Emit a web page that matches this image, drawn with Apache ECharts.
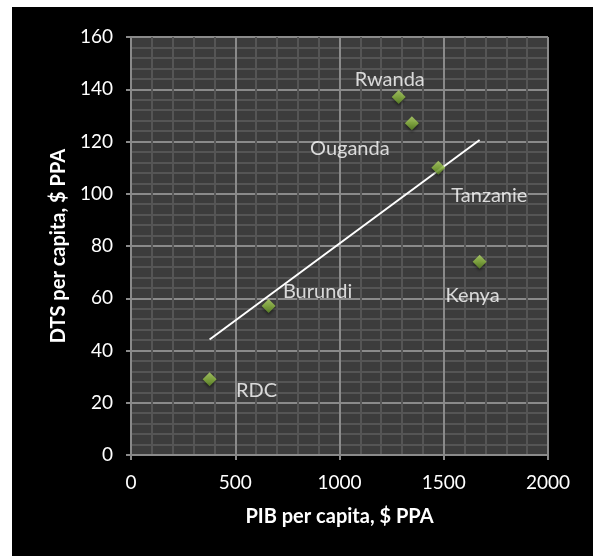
<!DOCTYPE html>
<html>
<head>
<meta charset="utf-8">
<script src="https://cdn.jsdelivr.net/npm/echarts@6/dist/echarts.min.js"></script>
<style>
  html, body { margin: 0; padding: 0; background: #ffffff; width: 593px; height: 556px; overflow: hidden; }
  #chart { position: absolute; left: 12px; top: 7px; width: 581px; height: 549px; background: #000000; }
</style>
</head>
<body>
<div id="chart"></div>
<script>
// Countries, GDP per capita (PPP $) and health spending per capita (PPP $)
const countries = ['RDC', 'Burundi', 'Rwanda', 'Ouganda', 'Tanzanie', 'Kenya'];
const pibPerCapita = [377, 660, 1284, 1347, 1474, 1672];
const dtsPerCapita = [29, 57, 137, 127, 110, 74];
// Linear trend line end points
const trendX = [377, 1672];
const trendY = [44.2, 120.6];
// Axis ticks
const xTicks = [0, 500, 1000, 1500, 2000];
const yTicks = [0, 20, 40, 60, 80, 100, 120, 140, 160];

// Label placement relative to each marker (pixels)
const labelOffsets = {
  'RDC': [47, 11],
  'Burundi': [49, -15],
  'Rwanda': [-9, -18],
  'Ouganda': [-62, 25],
  'Tanzanie': [51, 28],
  'Kenya': [-7, 34]
};

const points = countries.map((c, i) => ({
  name: c,
  value: [pibPerCapita[i], dtsPerCapita[i]],
  label: { offset: labelOffsets[c] }
}));

const chart = echarts.init(document.getElementById('chart'), null, { renderer: 'canvas' });
const font = 'Lato, "Open Sans", sans-serif';
const gridColor = '#8a8a8a';
const minorColor = '#555555';

chart.setOption({
  animation: false,
  backgroundColor: '#000000',
  grid: {
    left: 119, right: 45, top: 30, bottom: 101,
    show: true, backgroundColor: '#3c3c3c', borderWidth: 0
  },
  xAxis: {
    type: 'value',
    min: xTicks[0], max: xTicks[xTicks.length - 1], interval: 500,
    name: 'PIB per capita, $ PPA',
    nameLocation: 'middle', nameGap: 52,
    nameTextStyle: { color: '#ffffff', fontFamily: font, fontWeight: 'bold', fontSize: 20 },
    axisLine: { show: true, lineStyle: { color: gridColor, width: 2 } },
    axisTick: { show: true, inside: false, length: 5, lineStyle: { color: gridColor, width: 2 } },
    axisLabel: { color: '#ffffff', fontFamily: font, fontSize: 19, margin: 18, formatter: v => String(v) },
    splitLine: { show: true, lineStyle: { color: gridColor, width: 2 } },
    minorTick: { show: false, splitNumber: 5 },
    minorSplitLine: { show: true, lineStyle: { color: minorColor, width: 2 } }
  },
  yAxis: {
    type: 'value',
    min: yTicks[0], max: yTicks[yTicks.length - 1], interval: 20,
    name: 'DTS per capita, $ PPA',
    nameLocation: 'middle', nameGap: 62, nameRotate: 90,
    nameTextStyle: { color: '#ffffff', fontFamily: font, fontWeight: 'bold', fontSize: 20 },
    axisLine: { show: true, lineStyle: { color: gridColor, width: 2 } },
    axisTick: { show: true, inside: false, length: 5, lineStyle: { color: gridColor, width: 2 } },
    axisLabel: { color: '#ffffff', fontFamily: font, fontSize: 19, margin: 18, formatter: v => String(v) },
    splitLine: { show: true, lineStyle: { color: gridColor, width: 2 } },
    minorTick: { show: false, splitNumber: 5 },
    minorSplitLine: { show: true, lineStyle: { color: minorColor, width: 2 } }
  },
  series: [
    {
      type: 'line',
      data: trendX.map((x, i) => [x, trendY[i]]),
      showSymbol: false,
      lineStyle: { color: '#ffffff', width: 2 },
      z: 2
    },
    {
      type: 'scatter',
      data: points,
      symbol: 'diamond',
      symbolSize: [14, 14],
      itemStyle: {
        color: new echarts.graphic.LinearGradient(0, 0, 0, 1, [
          { offset: 0, color: '#b8dc6c' },
          { offset: 0.5, color: '#93c045' },
          { offset: 1, color: '#5f8a26' }
        ]),
        shadowBlur: 3, shadowColor: 'rgba(0,0,0,0.6)', shadowOffsetY: 2
      },
      label: {
        show: true, position: 'inside',
        formatter: p => p.name,
        color: '#ffffff', fontFamily: font, fontSize: 20
      },
      z: 3
    }
  ]
});
</script>
</body>
</html>
